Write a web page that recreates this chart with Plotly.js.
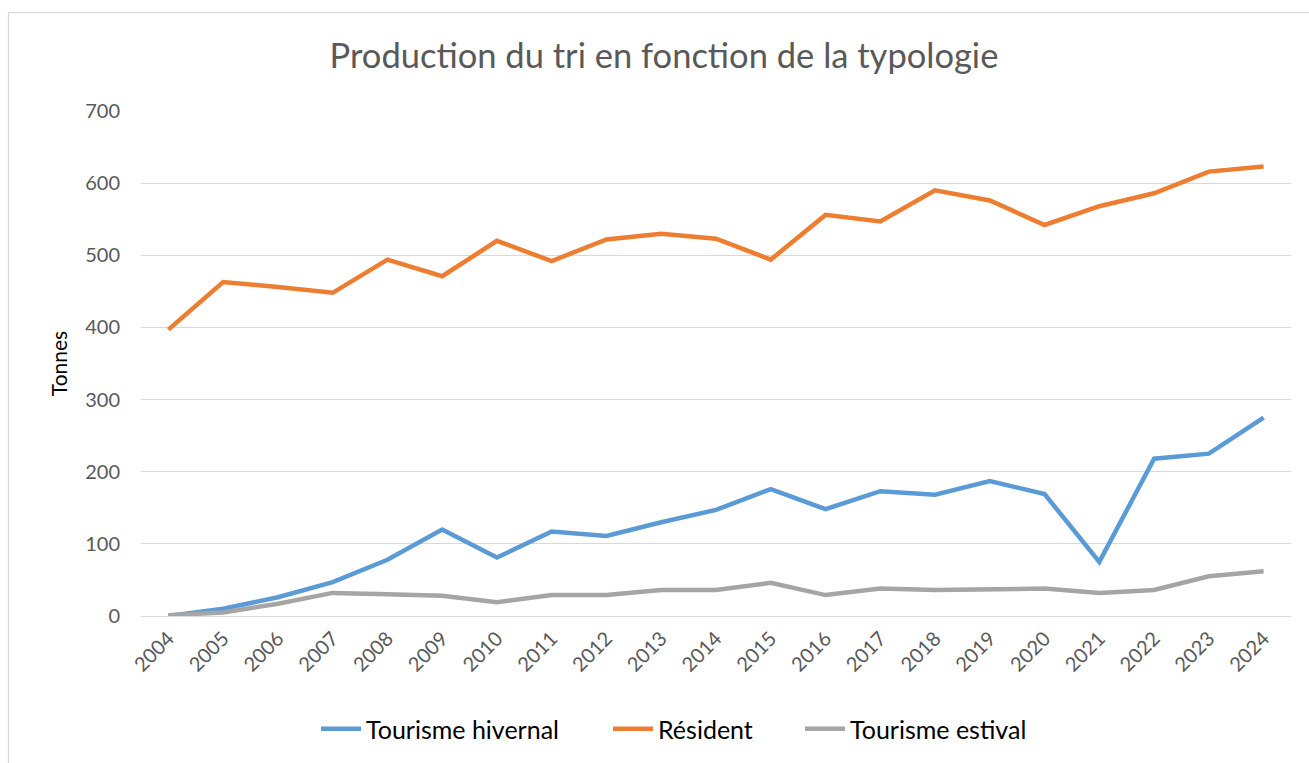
<!DOCTYPE html>
<html>
<head>
<meta charset="utf-8">
<script src="https://cdn.plot.ly/plotly-3.0.1.min.js"></script>
<style>
  html, body { margin: 0; padding: 0; background: #ffffff; }
  #chart { width: 1309px; height: 763px; }
</style>
</head>
<body>
<div id="chart"></div>
<script>
const years = ['2004','2005','2006','2007','2008','2009','2010','2011','2012','2013','2014',
               '2015','2016','2017','2018','2019','2020','2021','2022','2023','2024'];
const tourismeHivernal = [0, 10, 26, 47, 78, 120, 81, 117, 111, 130, 147,
                          176, 148, 173, 168, 187, 169, 75, 218, 225, 275];
const resident = [397, 463, 456, 448, 494, 471, 520, 492, 522, 530, 523,
                  494, 556, 547, 590, 576, 542, 568, 586, 616, 623];
const tourismeEstival = [1, 5, 17, 32, 30, 28, 19, 29, 29, 36, 36,
                         46, 29, 38, 36, 37, 38, 32, 36, 55, 62];
const yTicks = [0, 100, 200, 300, 400, 500, 600, 700];

const FONT = 'Lato, "Open Sans", sans-serif';

function series(name, y, color, legendId) {
  return {
    type: 'scatter', mode: 'lines', name: name, x: years, y: y,
    line: { color: color, width: 4.5, shape: 'linear' },
    legend: legendId,
    hoverinfo: 'x+y+name'
  };
}

const data = [
  series('Tourisme hivernal', tourismeHivernal, '#5B9BD5', 'legend'),
  series('Résident', resident, '#ED7D31', 'legend2'),
  series('Tourisme estival', tourismeEstival, '#A5A5A5', 'legend3')
];

const L = 141, R = 18, T = 111, B = 146;
const W = 1309, H = 763;
const pw = W - L - R, ph = H - T - B;
function px2x(px) { return (px - L) / pw; }
function py2y(py) { return (H - B - py) / ph; }

function legendAt(textLeftPx) {
  return {
    orientation: 'h', x: px2x(textLeftPx - 51), xanchor: 'left',
    y: py2y(729), yanchor: 'middle',
    font: { family: FONT, size: 25, color: '#000000' },
    itemwidth: 40, bgcolor: 'rgba(0,0,0,0)', borderwidth: 0
  };
}

const layout = {
  width: W, height: H,
  margin: { l: L, r: R, t: T, b: B, pad: 0 },
  paper_bgcolor: '#ffffff', plot_bgcolor: '#ffffff',
  font: { family: FONT, color: '#595959', size: 19 },
  title: {
    text: 'Production du tri en fonction de la typologie',
    font: { family: FONT, size: 34.5, color: '#595959' },
    x: 664 / W, xanchor: 'center', xref: 'container',
    y: 1 - 56 / H, yanchor: 'middle', yref: 'container'
  },
  xaxis: {
    type: 'category', tickvals: years, ticktext: years,
    range: [-0.5, years.length - 0.5],
    tickangle: -45, showgrid: false, zeroline: false,
    showline: false, ticks: '', ticklabelstandoff: 6,
    tickfont: { family: FONT, size: 20, color: '#595959' },
    fixedrange: true
  },
  yaxis: {
    range: [0, 700], tickvals: yTicks, ticktext: yTicks.map(String),
    showgrid: true, gridcolor: '#d9d9d9', gridwidth: 1.3,
    zeroline: true, zerolinecolor: '#d9d9d9', zerolinewidth: 1.3,
    showline: false, ticks: '', ticklabelstandoff: 20,
    tickfont: { family: FONT, size: 20, color: '#595959' },
    title: { text: 'Tonnes', font: { family: FONT, size: 21, color: '#000000' }, standoff: 11 },
    fixedrange: true
  },
  legend: legendAt(367),
  legend2: legendAt(659),
  legend3: legendAt(851),
  shapes: [{
    type: 'rect', xref: 'paper', yref: 'paper',
    x0: px2x(8.5), x1: px2x(1320), y0: py2y(775), y1: py2y(12.5),
    line: { color: '#d9d9d9', width: 1.3 }, fillcolor: 'rgba(0,0,0,0)', layer: 'below'
  }],
  showlegend: true, hovermode: 'closest'
};

Plotly.newPlot('chart', data, layout, { displayModeBar: false });
</script>
</body>
</html>
